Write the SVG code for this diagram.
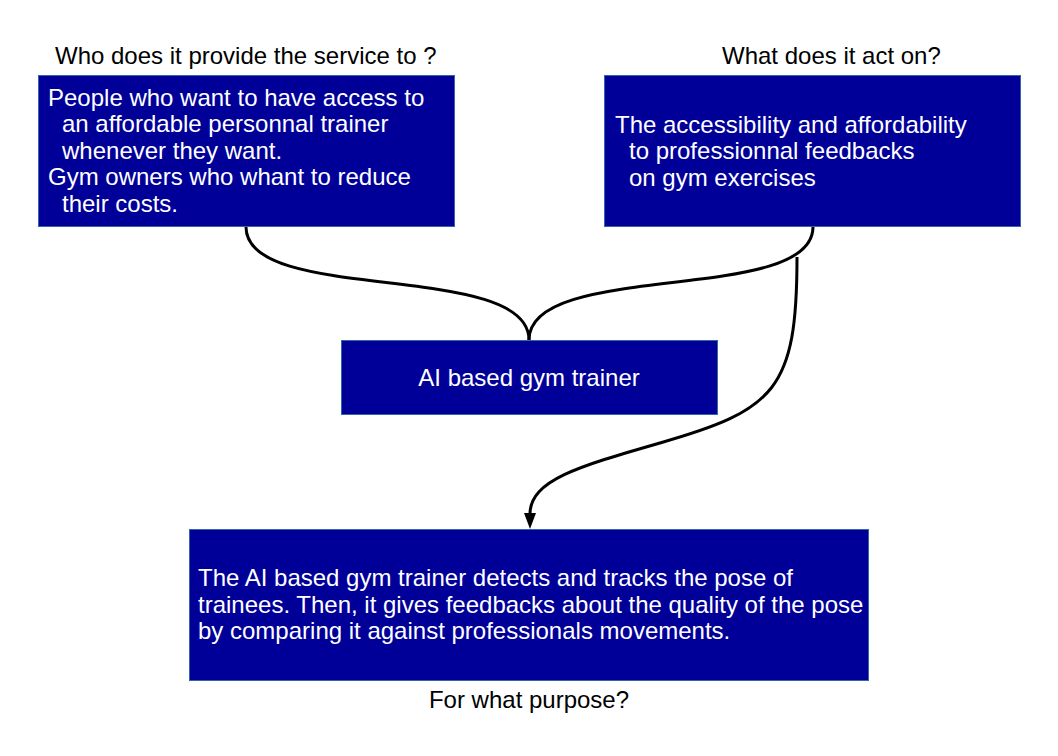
<svg xmlns="http://www.w3.org/2000/svg" width="1058" height="756" viewBox="0 0 1058 756">
<style>
.box{fill:#000099;stroke:#3465a4;stroke-width:1}
.wt{fill:#ffffff;font-family:"Liberation Sans",Arial,sans-serif;font-size:24px}
.bt{fill:#000000;font-family:"Liberation Sans",Arial,sans-serif;font-size:24px}
.con{fill:none;stroke:#000000;stroke-width:3}
.head{fill:#000000}
</style>
<rect width="1058" height="756" fill="#ffffff"/>
<g id="labels">
<text class="bt" x="55" y="64">Who does it provide the service to ?</text>
<text class="bt" x="722" y="64">What does it act on?</text>
<text class="bt" x="529" y="708" text-anchor="middle">For what purpose?</text>
</g>
<g id="connectors">
<path class="con" d="M246,227 C246,305 529,260 529,340"/>
<path class="con" d="M813,227 C813,305 529,260 529,340"/>
<path class="con" d="M797,257 C797,390 775,410 660,443 C580,466 530,480 530,514"/>
<path class="head" d="M524,513 L536,513 L530,529 Z"/>
</g>
<g id="who">
<rect class="box" x="38.5" y="75.5" width="416" height="151"/>
<text class="wt" x="48" y="106">People who want to have access to</text>
<text class="wt" x="62" y="132">an affordable personnal trainer</text>
<text class="wt" x="62" y="159">whenever they want.</text>
<text class="wt" x="48" y="185">Gym owners who whant to reduce</text>
<text class="wt" x="62" y="212">their costs.</text>
</g>
<g id="what">
<rect class="box" x="604.5" y="75.5" width="416" height="151"/>
<text class="wt" x="615" y="133">The accessibility and affordability</text>
<text class="wt" x="629" y="159">to professionnal feedbacks</text>
<text class="wt" x="629" y="186">on gym exercises</text>
</g>
<g id="trainer">
<rect class="box" x="341.5" y="340.5" width="376" height="74"/>
<text class="wt" x="529" y="386" text-anchor="middle">AI based gym trainer</text>
</g>
<g id="purpose">
<rect class="box" x="189.5" y="529.5" width="679" height="151"/>
<text class="wt" x="198" y="586">The AI based gym trainer detects and tracks the pose of</text>
<text class="wt" x="198" y="613">trainees. Then, it gives feedbacks about the quality of the pose</text>
<text class="wt" x="198" y="639">by comparing it against professionals movements.</text>
</g>
</svg>
